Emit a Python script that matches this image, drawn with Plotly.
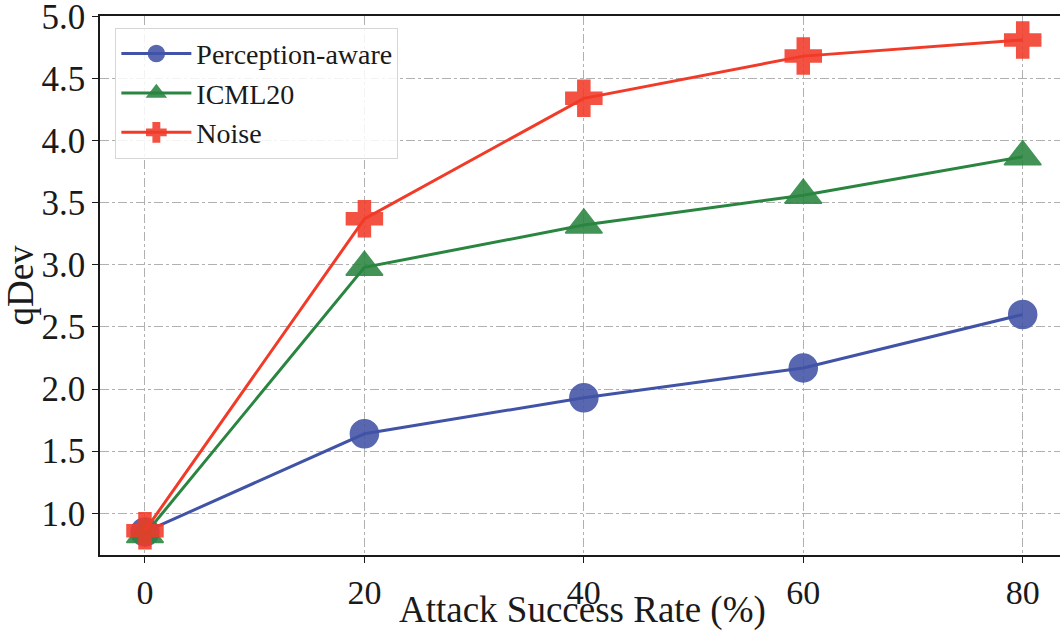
import plotly.graph_objects as go

asr = [0, 20, 40, 60, 80]
perception_aware = [0.85, 1.64, 1.93, 2.17, 2.60]
icml20 = [0.83, 2.98, 3.32, 3.56, 3.87]
noise = [0.86, 3.37, 4.34, 4.68, 4.81]

x_ticks = [0, 20, 40, 60, 80]
y_ticks = [1.0, 1.5, 2.0, 2.5, 3.0, 3.5, 4.0, 4.5, 5.0]
y_ticklabels = [f"{v:.1f}" for v in y_ticks]

x_title = "Attack Success Rate (%)"
y_title = "qDev"

series = [
    ("Perception-aware", perception_aware, "#4153a6", "circle", 28),
    ("ICML20", icml20, "#2a8540", "triangle-up", 32),
    ("Noise", noise, "#f23a28", "cross", 30),
]

FONT = "Liberation Serif"

fig = go.Figure()
for name, vals, color, sym, size in series:
    fig.add_trace(go.Scatter(
        x=asr, y=vals, name=name, mode="lines+markers",
        line=dict(color=color, width=3),
        marker=dict(symbol=sym, size=size, color=color, opacity=0.88,
                    line=dict(color=color, width=1.5)),
    ))

fig.update_layout(
    width=1060, height=634,
    margin=dict(l=100, r=0, t=16, b=79),
    paper_bgcolor="white", plot_bgcolor="white",
    font=dict(family=FONT, color="#1a1a1a", size=35),
    showlegend=True,
    legend=dict(
        x=0.016, y=0.978, xanchor="left", yanchor="top",
        bgcolor="rgba(255,255,255,0.85)", bordercolor="#d6d6d6", borderwidth=1,
        font=dict(family=FONT, size=28, color="#1a1a1a"),
        itemsizing="trace", itemwidth=70, tracegroupgap=0,
    ),
    annotations=[dict(
        text=x_title, xref="paper", yref="paper", x=0.503, y=-0.1445,
        xanchor="center", yanchor="bottom", showarrow=False,
        font=dict(family=FONT, size=37, color="#1a1a1a"),
    )],
)

fig.update_xaxes(
    range=[-4.1, 83.4], tickmode="array", tickvals=x_ticks,
    ticktext=[str(v) for v in x_ticks],
    showline=True, linecolor="#1a1a1a", linewidth=1.5, mirror=True,
    ticks="outside", ticklen=6, tickcolor="#1a1a1a",
    showgrid=True, gridcolor="#b0b0b0", griddash="dashdot", gridwidth=1,
    zeroline=False, automargin=False,
    tickfont=dict(family=FONT, size=34),
)
fig.update_yaxes(
    range=[0.664, 5.003], tickmode="array", tickvals=y_ticks, ticktext=y_ticklabels,
    showline=True, linecolor="#1a1a1a", linewidth=1.5, mirror=False,
    ticks="outside", ticklen=6, tickcolor="#1a1a1a",
    showgrid=True, gridcolor="#b0b0b0", griddash="dashdot", gridwidth=1,
    zeroline=False, automargin=False, ticklabeloverflow="allow",
    tickfont=dict(family=FONT, size=35),
    title=dict(text=y_title, font=dict(family=FONT, size=37)),
)

fig.write_html(
    "out.html",
    config={"displayModeBar": False},
    post_script="document.body.style.margin='0';document.body.style.overflow='hidden';",
)
